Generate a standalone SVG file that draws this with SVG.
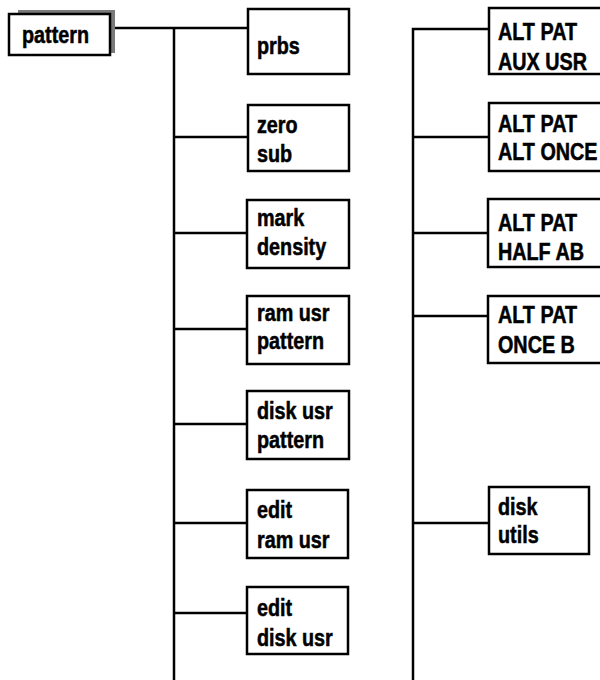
<svg xmlns="http://www.w3.org/2000/svg" width="600" height="680" viewBox="0 0 600 680">
<style>
.box{fill:#fff;stroke:#000;stroke-width:2.5}
.ln{fill:none;stroke:#000;stroke-width:2.5}
text{font-family:"Liberation Sans",Arial,sans-serif;font-weight:bold;font-size:23px;fill:#000;stroke:#000;stroke-width:0.5;transform-box:fill-box;transform-origin:0 0;transform:scaleX(0.86)}
</style>
<rect width="600" height="680" fill="#fff"/>
<g id="connectors">
<path class="ln" d="M110 28H248M174 28V680M174 137H248M174 233H247M174 329H247M174 424H247M174 523H247M174 613H247"/>
<path class="ln" d="M489 29H413V680M413 137H489M413 233H488M413 316H488M413 523H489"/>
</g>
<g id="pattern">
<rect x="18" y="10" width="97" height="43" fill="#7a7a7a"/>
<rect class="box" x="9" y="14" width="101" height="41"/>
<text x="22" y="43">pattern</text>
</g>
<g id="prbs"><rect class="box" x="248" y="9" width="101" height="65"/><text x="257" y="54">prbs</text></g>
<g id="zero-sub"><rect class="box" x="248" y="105" width="101" height="66"/><text x="257" y="133">zero</text><text x="257" y="162">sub</text></g>
<g id="mark-density"><rect class="box" x="247" y="200" width="102" height="68"/><text x="257" y="226">mark</text><text x="257" y="255">density</text></g>
<g id="ram-usr-pattern"><rect class="box" x="247" y="296" width="102" height="68"/><text x="257" y="321">ram usr</text><text x="257" y="349">pattern</text></g>
<g id="disk-usr-pattern"><rect class="box" x="247" y="391" width="102" height="68"/><text x="257" y="419">disk usr</text><text x="257" y="448">pattern</text></g>
<g id="edit-ram-usr"><rect class="box" x="247" y="490" width="101" height="68"/><text x="257" y="518">edit</text><text x="257" y="548">ram usr</text></g>
<g id="edit-disk-usr"><rect class="box" x="247" y="587" width="101" height="67"/><text x="257" y="616">edit</text><text x="257" y="646">disk usr</text></g>
<g id="alt-aux-usr"><rect class="box" x="489" y="8" width="120" height="66"/><text x="498" y="40">ALT PAT</text><text x="498" y="70">AUX USR</text></g>
<g id="alt-once"><rect class="box" x="489" y="103" width="120" height="68"/><text x="498" y="132">ALT PAT</text><text x="498" y="160">ALT ONCE</text></g>
<g id="alt-half-ab"><rect class="box" x="488" y="199" width="120" height="68"/><text x="498" y="231">ALT PAT</text><text x="498" y="260">HALF AB</text></g>
<g id="alt-once-b"><rect class="box" x="488" y="296" width="120" height="67"/><text x="498" y="323">ALT PAT</text><text x="498" y="353">ONCE B</text></g>
<g id="disk-utils"><rect class="box" x="489" y="487" width="100" height="67"/><text x="498" y="515">disk</text><text x="498" y="543">utils</text></g>
</svg>
